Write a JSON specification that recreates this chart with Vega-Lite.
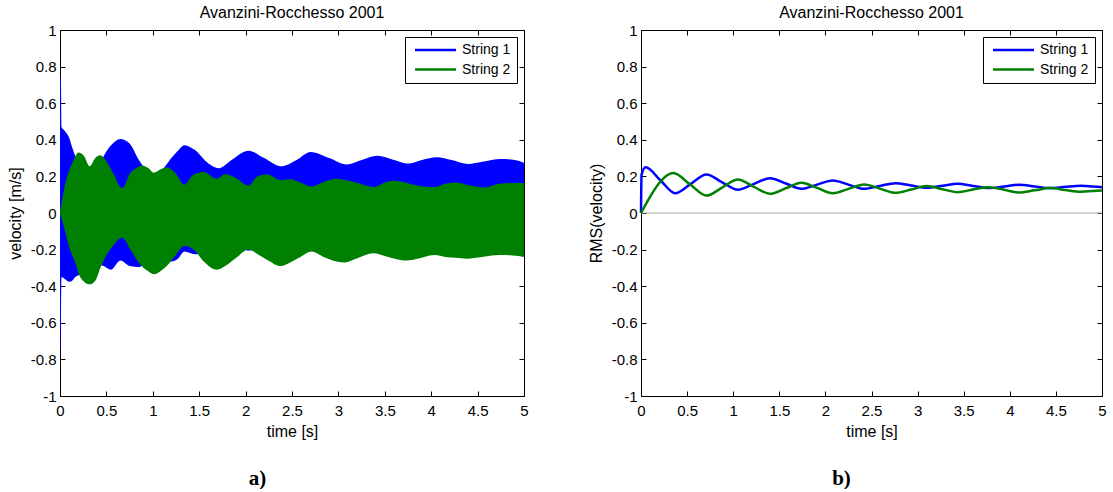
{
  "$schema": "https://vega.github.io/schema/vega-lite/v6.json",
  "background": "white",
  "padding": {"left": 6, "top": 4, "right": 5, "bottom": 0},
  "bounds": "flush",
  "spacing": 117,
  "datasets": {
    "band1": [
      {"series": "String 1", "t": 0, "hi": 0.75, "lo": -0.75},
      {"series": "String 1", "t": 0.01, "hi": 0.72, "lo": -0.72},
      {"series": "String 1", "t": 0.016, "hi": 0.47, "lo": -0.35},
      {"series": "String 1", "t": 0.05, "hi": 0.45, "lo": -0.36},
      {"series": "String 1", "t": 0.1, "hi": 0.41, "lo": -0.375},
      {"series": "String 1", "t": 0.13, "hi": 0.36, "lo": -0.37},
      {"series": "String 1", "t": 0.165, "hi": 0.31, "lo": -0.35},
      {"series": "String 1", "t": 0.2, "hi": 0.27, "lo": -0.34},
      {"series": "String 1", "t": 0.26, "hi": 0.2, "lo": -0.32},
      {"series": "String 1", "t": 0.33, "hi": 0.17, "lo": -0.3},
      {"series": "String 1", "t": 0.4, "hi": 0.23, "lo": -0.28},
      {"series": "String 1", "t": 0.47, "hi": 0.31, "lo": -0.29},
      {"series": "String 1", "t": 0.55, "hi": 0.37, "lo": -0.31},
      {"series": "String 1", "t": 0.65, "hi": 0.405, "lo": -0.26},
      {"series": "String 1", "t": 0.75, "hi": 0.38, "lo": -0.29},
      {"series": "String 1", "t": 0.85, "hi": 0.29, "lo": -0.295},
      {"series": "String 1", "t": 0.93, "hi": 0.235, "lo": -0.27},
      {"series": "String 1", "t": 1.01, "hi": 0.2, "lo": -0.26},
      {"series": "String 1", "t": 1.1, "hi": 0.235, "lo": -0.25},
      {"series": "String 1", "t": 1.2, "hi": 0.3, "lo": -0.265},
      {"series": "String 1", "t": 1.27, "hi": 0.34, "lo": -0.25},
      {"series": "String 1", "t": 1.34, "hi": 0.37, "lo": -0.21},
      {"series": "String 1", "t": 1.45, "hi": 0.345, "lo": -0.225},
      {"series": "String 1", "t": 1.6, "hi": 0.27, "lo": -0.22},
      {"series": "String 1", "t": 1.71, "hi": 0.245, "lo": -0.21},
      {"series": "String 1", "t": 1.85, "hi": 0.29, "lo": -0.2},
      {"series": "String 1", "t": 2.03, "hi": 0.34, "lo": -0.205},
      {"series": "String 1", "t": 2.2, "hi": 0.3, "lo": -0.19},
      {"series": "String 1", "t": 2.38, "hi": 0.255, "lo": -0.19},
      {"series": "String 1", "t": 2.55, "hi": 0.29, "lo": -0.19},
      {"series": "String 1", "t": 2.7, "hi": 0.333, "lo": -0.19},
      {"series": "String 1", "t": 2.9, "hi": 0.3, "lo": -0.19},
      {"series": "String 1", "t": 3.09, "hi": 0.265, "lo": -0.19},
      {"series": "String 1", "t": 3.25, "hi": 0.29, "lo": -0.19},
      {"series": "String 1", "t": 3.42, "hi": 0.313, "lo": -0.19},
      {"series": "String 1", "t": 3.6, "hi": 0.29, "lo": -0.19},
      {"series": "String 1", "t": 3.75, "hi": 0.27, "lo": -0.19},
      {"series": "String 1", "t": 3.9, "hi": 0.29, "lo": -0.19},
      {"series": "String 1", "t": 4.06, "hi": 0.305, "lo": -0.19},
      {"series": "String 1", "t": 4.22, "hi": 0.29, "lo": -0.19},
      {"series": "String 1", "t": 4.4, "hi": 0.268, "lo": -0.19},
      {"series": "String 1", "t": 4.55, "hi": 0.28, "lo": -0.19},
      {"series": "String 1", "t": 4.75, "hi": 0.295, "lo": -0.19},
      {"series": "String 1", "t": 4.9, "hi": 0.29, "lo": -0.19},
      {"series": "String 1", "t": 5.0, "hi": 0.275, "lo": -0.19}
    ],
    "band2": [
      {"series": "String 2", "t": 0, "hi": 0, "lo": 0},
      {"series": "String 2", "t": 0.05, "hi": 0.145, "lo": -0.09},
      {"series": "String 2", "t": 0.09, "hi": 0.22, "lo": -0.17},
      {"series": "String 2", "t": 0.13, "hi": 0.27, "lo": -0.23},
      {"series": "String 2", "t": 0.165, "hi": 0.31, "lo": -0.27},
      {"series": "String 2", "t": 0.2, "hi": 0.33, "lo": -0.33},
      {"series": "String 2", "t": 0.26, "hi": 0.31, "lo": -0.375},
      {"series": "String 2", "t": 0.32, "hi": 0.255, "lo": -0.39},
      {"series": "String 2", "t": 0.38, "hi": 0.3, "lo": -0.37},
      {"series": "String 2", "t": 0.435, "hi": 0.315, "lo": -0.3},
      {"series": "String 2", "t": 0.49, "hi": 0.29, "lo": -0.24},
      {"series": "String 2", "t": 0.57, "hi": 0.22, "lo": -0.18},
      {"series": "String 2", "t": 0.67, "hi": 0.136, "lo": -0.135},
      {"series": "String 2", "t": 0.76, "hi": 0.22, "lo": -0.2},
      {"series": "String 2", "t": 0.82, "hi": 0.245, "lo": -0.25},
      {"series": "String 2", "t": 0.88, "hi": 0.26, "lo": -0.29},
      {"series": "String 2", "t": 0.955, "hi": 0.245, "lo": -0.32},
      {"series": "String 2", "t": 1.01, "hi": 0.22, "lo": -0.335},
      {"series": "String 2", "t": 1.09, "hi": 0.24, "lo": -0.315},
      {"series": "String 2", "t": 1.15, "hi": 0.25, "lo": -0.29},
      {"series": "String 2", "t": 1.24, "hi": 0.22, "lo": -0.235},
      {"series": "String 2", "t": 1.34, "hi": 0.155, "lo": -0.18},
      {"series": "String 2", "t": 1.44, "hi": 0.21, "lo": -0.2},
      {"series": "String 2", "t": 1.55, "hi": 0.224, "lo": -0.265},
      {"series": "String 2", "t": 1.69, "hi": 0.187, "lo": -0.31},
      {"series": "String 2", "t": 1.78, "hi": 0.213, "lo": -0.29},
      {"series": "String 2", "t": 1.9, "hi": 0.19, "lo": -0.245},
      {"series": "String 2", "t": 2.03, "hi": 0.15, "lo": -0.2},
      {"series": "String 2", "t": 2.13, "hi": 0.2, "lo": -0.225},
      {"series": "String 2", "t": 2.23, "hi": 0.21, "lo": -0.255},
      {"series": "String 2", "t": 2.38, "hi": 0.18, "lo": -0.29},
      {"series": "String 2", "t": 2.48, "hi": 0.185, "lo": -0.27},
      {"series": "String 2", "t": 2.59, "hi": 0.167, "lo": -0.24},
      {"series": "String 2", "t": 2.71, "hi": 0.145, "lo": -0.21},
      {"series": "String 2", "t": 2.84, "hi": 0.17, "lo": -0.24},
      {"series": "String 2", "t": 2.98, "hi": 0.187, "lo": -0.265},
      {"series": "String 2", "t": 3.07, "hi": 0.18, "lo": -0.27},
      {"series": "String 2", "t": 3.19, "hi": 0.167, "lo": -0.25},
      {"series": "String 2", "t": 3.38, "hi": 0.142, "lo": -0.22},
      {"series": "String 2", "t": 3.5, "hi": 0.167, "lo": -0.235},
      {"series": "String 2", "t": 3.61, "hi": 0.176, "lo": -0.25},
      {"series": "String 2", "t": 3.73, "hi": 0.165, "lo": -0.26},
      {"series": "String 2", "t": 3.81, "hi": 0.155, "lo": -0.255},
      {"series": "String 2", "t": 4.04, "hi": 0.142, "lo": -0.23},
      {"series": "String 2", "t": 4.15, "hi": 0.16, "lo": -0.24},
      {"series": "String 2", "t": 4.27, "hi": 0.167, "lo": -0.245},
      {"series": "String 2", "t": 4.38, "hi": 0.155, "lo": -0.25},
      {"series": "String 2", "t": 4.58, "hi": 0.14, "lo": -0.238},
      {"series": "String 2", "t": 4.73, "hi": 0.16, "lo": -0.23},
      {"series": "String 2", "t": 4.88, "hi": 0.164, "lo": -0.232},
      {"series": "String 2", "t": 5.0, "hi": 0.164, "lo": -0.24}
    ],
    "rms": [
      {"series": "String 1", "t": 0, "v": 0},
      {"series": "String 1", "t": 0.006, "v": 0.21},
      {"series": "String 1", "t": 0.05, "v": 0.25},
      {"series": "String 1", "t": 0.21, "v": 0.179},
      {"series": "String 1", "t": 0.37, "v": 0.108},
      {"series": "String 1", "t": 0.54, "v": 0.159},
      {"series": "String 1", "t": 0.71, "v": 0.21},
      {"series": "String 1", "t": 0.88, "v": 0.168},
      {"series": "String 1", "t": 1.05, "v": 0.127},
      {"series": "String 1", "t": 1.22, "v": 0.158},
      {"series": "String 1", "t": 1.4, "v": 0.19},
      {"series": "String 1", "t": 1.57, "v": 0.161},
      {"series": "String 1", "t": 1.74, "v": 0.132},
      {"series": "String 1", "t": 1.91, "v": 0.155},
      {"series": "String 1", "t": 2.08, "v": 0.178},
      {"series": "String 1", "t": 2.25, "v": 0.155},
      {"series": "String 1", "t": 2.42, "v": 0.132},
      {"series": "String 1", "t": 2.59, "v": 0.148},
      {"series": "String 1", "t": 2.76, "v": 0.163},
      {"series": "String 1", "t": 2.93, "v": 0.15},
      {"series": "String 1", "t": 3.1, "v": 0.138},
      {"series": "String 1", "t": 3.27, "v": 0.149},
      {"series": "String 1", "t": 3.43, "v": 0.16},
      {"series": "String 1", "t": 3.6, "v": 0.148},
      {"series": "String 1", "t": 3.77, "v": 0.136},
      {"series": "String 1", "t": 3.94, "v": 0.145},
      {"series": "String 1", "t": 4.1, "v": 0.154},
      {"series": "String 1", "t": 4.27, "v": 0.145},
      {"series": "String 1", "t": 4.44, "v": 0.136},
      {"series": "String 1", "t": 4.6, "v": 0.143},
      {"series": "String 1", "t": 4.77, "v": 0.149},
      {"series": "String 1", "t": 4.9, "v": 0.145},
      {"series": "String 1", "t": 5.0, "v": 0.141},
      {"series": "String 2", "t": 0, "v": 0},
      {"series": "String 2", "t": 0.1, "v": 0.09},
      {"series": "String 2", "t": 0.2, "v": 0.165},
      {"series": "String 2", "t": 0.28, "v": 0.205},
      {"series": "String 2", "t": 0.35, "v": 0.218},
      {"series": "String 2", "t": 0.53, "v": 0.157},
      {"series": "String 2", "t": 0.71, "v": 0.095},
      {"series": "String 2", "t": 0.88, "v": 0.139},
      {"series": "String 2", "t": 1.05, "v": 0.183},
      {"series": "String 2", "t": 1.22, "v": 0.144},
      {"series": "String 2", "t": 1.4, "v": 0.105},
      {"series": "String 2", "t": 1.57, "v": 0.135},
      {"series": "String 2", "t": 1.74, "v": 0.165},
      {"series": "String 2", "t": 1.91, "v": 0.137},
      {"series": "String 2", "t": 2.08, "v": 0.108},
      {"series": "String 2", "t": 2.25, "v": 0.132},
      {"series": "String 2", "t": 2.42, "v": 0.156},
      {"series": "String 2", "t": 2.59, "v": 0.133},
      {"series": "String 2", "t": 2.76, "v": 0.11},
      {"series": "String 2", "t": 2.93, "v": 0.128},
      {"series": "String 2", "t": 3.1, "v": 0.147},
      {"series": "String 2", "t": 3.27, "v": 0.13},
      {"series": "String 2", "t": 3.43, "v": 0.114},
      {"series": "String 2", "t": 3.6, "v": 0.128},
      {"series": "String 2", "t": 3.77, "v": 0.141},
      {"series": "String 2", "t": 3.94, "v": 0.127},
      {"series": "String 2", "t": 4.1, "v": 0.112},
      {"series": "String 2", "t": 4.27, "v": 0.124},
      {"series": "String 2", "t": 4.44, "v": 0.136},
      {"series": "String 2", "t": 4.6, "v": 0.126},
      {"series": "String 2", "t": 4.77, "v": 0.116},
      {"series": "String 2", "t": 4.9, "v": 0.12},
      {"series": "String 2", "t": 5.0, "v": 0.123}
    ]
  },
  "hconcat": [
    {
      "width": 464,
      "height": 366,
      "title": {"text": "Avanzini-Rocchesso 2001", "offset": 2},
      "resolve": {"axis": {"x": "independent", "y": "independent"}},
      "layer": [
        {
          "data": {"name": "band1"},
          "mark": {"type": "area", "interpolate": "monotone", "color": "#0000ff", "opacity": 1},
          "encoding": {
            "x": {"field": "t", "type": "quantitative",
              "scale": {"domain": [0, 5], "nice": false, "zero": false},
              "axis": {"orient": "bottom", "title": "time [s]", "values": [0, 0.5, 1, 1.5, 2, 2.5, 3, 3.5, 4, 4.5, 5], "labelExpr": "'' + datum.value", "titlePadding": 5}},
            "y": {"field": "hi", "type": "quantitative",
              "scale": {"domain": [-1, 1], "nice": false, "zero": false},
              "axis": {"orient": "left", "title": "velocity [m/s]", "values": [-1, -0.8, -0.6, -0.4, -0.2, 0, 0.2, 0.4, 0.6, 0.8, 1], "labelExpr": "'' + datum.value", "titlePadding": 7}},
            "y2": {"field": "lo"}
          }
        },
        {
          "data": {"name": "band2"},
          "mark": {"type": "area", "interpolate": "monotone", "color": "#008000", "opacity": 1},
          "encoding": {
            "x": {"field": "t", "type": "quantitative",
              "axis": {"orient": "top", "title": null, "labels": false, "values": [0, 0.5, 1, 1.5, 2, 2.5, 3, 3.5, 4, 4.5, 5]}},
            "y": {"field": "hi", "type": "quantitative",
              "axis": {"orient": "right", "title": null, "labels": false, "values": [-1, -0.8, -0.6, -0.4, -0.2, 0, 0.2, 0.4, 0.6, 0.8, 1]}},
            "y2": {"field": "lo"}
          }
        },
        {
          "data": {"name": "band1"},
          "mark": {"type": "line", "opacity": 0, "strokeWidth": 2.5},
          "encoding": {
            "x": {"field": "t", "type": "quantitative", "axis": null},
            "y": {"field": "hi", "type": "quantitative", "axis": null},
            "color": {"field": "series", "type": "nominal",
              "scale": {"domain": ["String 1", "String 2"], "range": ["#0000ff", "#008000"]},
              "legend": {"symbolOpacity": 1}}
          }
        },
        {
          "data": {"values": [{"k": 1}]},
          "mark": {"type": "rule", "opacity": 0},
          "encoding": {
            "x": {"datum": 0, "type": "quantitative",
              "axis": {"orient": "bottom", "labels": false, "ticks": false, "domain": false, "title": "a)", "titleX": 197, "titleY": 82, "titleBaseline": "middle", "titleFont": "Liberation Serif", "titleFontWeight": "bold", "titleFontSize": 21}}
          }
        }
      ]
    },
    {
      "width": 461,
      "height": 366,
      "title": {"text": "Avanzini-Rocchesso 2001", "offset": 2},
      "resolve": {"axis": {"x": "independent", "y": "independent"}},
      "layer": [
        {
          "data": {"values": [{"k": 1}]},
          "mark": {"type": "rule", "color": "#a8a8a8", "strokeWidth": 1},
          "encoding": {
            "x": {"datum": 0, "type": "quantitative",
              "scale": {"domain": [0, 5], "nice": false, "zero": false},
              "axis": {"orient": "top", "title": null, "labels": false, "values": [0, 0.5, 1, 1.5, 2, 2.5, 3, 3.5, 4, 4.5, 5]}},
            "x2": {"datum": 5},
            "y": {"datum": 0, "type": "quantitative",
              "scale": {"domain": [-1, 1], "nice": false, "zero": false},
              "axis": {"orient": "right", "title": null, "labels": false, "values": [-1, -0.8, -0.6, -0.4, -0.2, 0, 0.2, 0.4, 0.6, 0.8, 1]}}
          }
        },
        {
          "data": {"name": "rms"},
          "mark": {"type": "line", "interpolate": "monotone", "strokeWidth": 2.5},
          "encoding": {
            "x": {"field": "t", "type": "quantitative",
              "axis": {"orient": "bottom", "title": "time [s]", "values": [0, 0.5, 1, 1.5, 2, 2.5, 3, 3.5, 4, 4.5, 5], "labelExpr": "'' + datum.value", "titlePadding": 5}},
            "y": {"field": "v", "type": "quantitative",
              "axis": {"orient": "left", "title": "RMS(velocity)", "values": [-1, -0.8, -0.6, -0.4, -0.2, 0, 0.2, 0.4, 0.6, 0.8, 1], "labelExpr": "'' + datum.value", "titlePadding": 7}},
            "color": {"field": "series", "type": "nominal",
              "scale": {"domain": ["String 1", "String 2"], "range": ["#0000ff", "#008000"]}}
          }
        },
        {
          "data": {"values": [{"k": 1}]},
          "mark": {"type": "rule", "opacity": 0},
          "encoding": {
            "x": {"datum": 0, "type": "quantitative",
              "axis": {"orient": "bottom", "labels": false, "ticks": false, "domain": false, "title": "b)", "titleX": 200, "titleY": 82, "titleBaseline": "middle", "titleFont": "Liberation Serif", "titleFontWeight": "bold", "titleFontSize": 21}}
          }
        }
      ]
    }
  ],
  "resolve": {"scale": {"color": "independent", "x": "independent", "y": "independent"}, "legend": {"color": "independent"}},
  "config": {
    "view": {"stroke": "black", "strokeWidth": 1},
    "font": "Liberation Sans",
    "title": {"font": "Liberation Sans", "fontSize": 16, "fontWeight": "normal", "color": "black"},
    "axis": {
      "grid": false,
      "labelFont": "Liberation Sans", "labelFontSize": 15, "labelColor": "black",
      "titleFont": "Liberation Sans", "titleFontSize": 16, "titleFontWeight": "normal", "titleColor": "black",
      "domainColor": "black", "tickColor": "black", "tickSize": -5, "labelFlush": false, "labelOverlap": false
    },
    "axisX": {"labelPadding": 12},
    "axisY": {"labelPadding": 9},
    "legend": {
      "orient": "top-right", "offset": 7, "title": null,
      "fillColor": "white", "strokeColor": "black", "padding": 6,
      "symbolType": "M-0.6,0H7.6", "symbolSize": 100, "symbolStrokeWidth": 2.5, "symbolOpacity": 1,
      "labelFont": "Liberation Sans", "labelFontSize": 14, "labelColor": "black",
      "labelOffset": 37, "rowPadding": 5.5
    }
  }
}
